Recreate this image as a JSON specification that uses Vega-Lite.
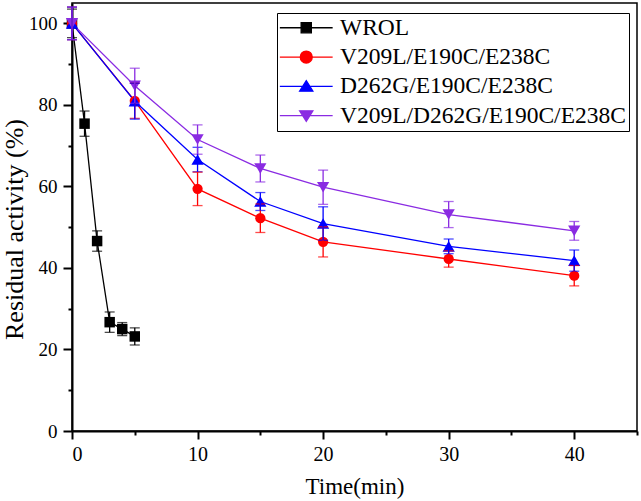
{
  "$schema": "https://vega.github.io/schema/vega-lite/v6.json",
  "width": 565,
  "height": 428,
  "autosize": "none",
  "padding": {"left": 72, "top": 3, "right": 4, "bottom": 70},
  "background": "white",
  "config": {
    "font": "Liberation Serif",
    "view": {"stroke": "black", "strokeWidth": 1.5},
    "axis": {
      "grid": false,
      "domainColor": "black",
      "domainWidth": 2,
      "tickColor": "black",
      "tickWidth": 2,
      "labelColor": "black",
      "titleColor": "black",
      "labelFont": "Liberation Serif",
      "titleFont": "Liberation Serif",
      "titleFontWeight": "normal"
    },
    "legend": {"labelFont": "Liberation Serif"}
  },
  "data": {
    "values": [
      {"series": "WROL", "t": 0, "v": 100, "err": 3.5},
      {"series": "WROL", "t": 1, "v": 75.4, "err": 3.1},
      {"series": "WROL", "t": 2, "v": 46.6, "err": 2.5},
      {"series": "WROL", "t": 3, "v": 26.7, "err": 2.5},
      {"series": "WROL", "t": 4, "v": 25.0, "err": 1.6},
      {"series": "WROL", "t": 5, "v": 23.2, "err": 2.1},
      {"series": "V209L/E190C/E238C", "t": 0, "v": 100, "err": 4},
      {"series": "V209L/E190C/E238C", "t": 5, "v": 81.0, "err": 4.3},
      {"series": "V209L/E190C/E238C", "t": 10, "v": 59.4, "err": 4.1},
      {"series": "V209L/E190C/E238C", "t": 15, "v": 52.2, "err": 3.5},
      {"series": "V209L/E190C/E238C", "t": 20, "v": 46.4, "err": 3.7},
      {"series": "V209L/E190C/E238C", "t": 30, "v": 42.2, "err": 2.0},
      {"series": "V209L/E190C/E238C", "t": 40, "v": 38.1, "err": 2.5},
      {"series": "D262G/E190C/E238C", "t": 0, "v": 100, "err": 4},
      {"series": "D262G/E190C/E238C", "t": 5, "v": 80.9, "err": 4.4},
      {"series": "D262G/E190C/E238C", "t": 10, "v": 66.6, "err": 3.0},
      {"series": "D262G/E190C/E238C", "t": 15, "v": 56.3, "err": 2.2},
      {"series": "D262G/E190C/E238C", "t": 20, "v": 50.9, "err": 4.1},
      {"series": "D262G/E190C/E238C", "t": 30, "v": 45.3, "err": 1.8},
      {"series": "D262G/E190C/E238C", "t": 40, "v": 41.8, "err": 2.6},
      {"series": "V209L/D262G/E190C/E238C", "t": 0, "v": 100, "err": 4},
      {"series": "V209L/D262G/E190C/E238C", "t": 5, "v": 84.7, "err": 4.3},
      {"series": "V209L/D262G/E190C/E238C", "t": 10, "v": 71.5, "err": 3.6},
      {"series": "V209L/D262G/E190C/E238C", "t": 15, "v": 64.4, "err": 3.3},
      {"series": "V209L/D262G/E190C/E238C", "t": 20, "v": 59.8, "err": 4.2},
      {"series": "V209L/D262G/E190C/E238C", "t": 30, "v": 53.1, "err": 3.2},
      {"series": "V209L/D262G/E190C/E238C", "t": 40, "v": 49.1, "err": 2.3}
    ]
  },
  "encoding": {
    "x": {
      "field": "t", "type": "quantitative",
      "scale": {"domain": [0, 45], "nice": false, "zero": false},
      "axis": {
        "title": "Time(min)",
        "titleFont": "Liberation Serif",
        "titleFontSize": 23,
        "titlePadding": 11,
        "labelFont": "Liberation Serif",
        "labelFontSize": 20,
        "labelPadding": 5,
        "values": [0, 5, 10, 15, 20, 25, 30, 35, 40, 45],
        "labelExpr": "datum.value % 10 === 0 ? datum.label : ''",
        "tickSize": {"condition": {"test": "datum.value % 10 === 0", "value": 8}, "value": 4}
      }
    },
    "y": {
      "field": "v", "type": "quantitative",
      "scale": {"domain": [0, 105], "nice": false, "zero": false},
      "axis": {
        "title": "Residual activity (%)",
        "titleFont": "Liberation Serif",
        "titleFontSize": 26,
        "titlePadding": 1,
        "titleY": 226,
        "labelFont": "Liberation Serif",
        "labelFontSize": 19,
        "labelPadding": 6,
        "values": [0, 10, 20, 30, 40, 50, 60, 70, 80, 90, 100],
        "labelExpr": "datum.value % 20 === 0 ? datum.label : ''",
        "tickSize": {"condition": {"test": "datum.value % 20 === 0", "value": 9}, "value": 4}
      }
    },
    "color": {
      "field": "series", "type": "nominal",
      "scale": {
        "domain": ["WROL", "V209L/E190C/E238C", "D262G/E190C/E238C", "V209L/D262G/E190C/E238C"],
        "range": ["#000000", "#FF0000", "#0000FF", "#8A2BE2"]
      },
      "legend": {
        "title": null,
        "orient": "none",
        "legendX": 205,
        "legendY": 10,
        "padding": 3,
        "strokeColor": "black",
        "fillColor": "white",
        "labelFont": "Liberation Serif",
        "labelFontSize": 23.5,
        "labelColor": "black",
        "labelLimit": 500,
        "symbolSize": 144,
        "symbolOffset": 14.5,
        "labelOffset": 22,
        "rowPadding": 4.3,
        "symbolOpacity": 1,
        "symbolStrokeWidth": 1.3
      }
    }
  },
  "layer": [
    {
      "mark": {"type": "point", "filled": true, "opacity": 1, "size": 0},
      "encoding": {
        "shape": {
          "field": "series", "type": "nominal",
          "scale": {
            "domain": ["WROL", "V209L/E190C/E238C", "D262G/E190C/E238C", "V209L/D262G/E190C/E238C"],
            "range": [
              "M-4.4,0H4.4M-0.85,-0.85H0.85V0.85H-0.85Z",
              "M-4.4,0H4.4M-1,0A1,1 0 1,0 1,0A1,1 0 1,0 -1,0Z",
              "M-4.4,0H4.4M0,-0.95L1.1,0.8L-1.1,0.8Z",
              "M-4.4,0H4.4M0,0.95L1.1,-0.8L-1.1,-0.8Z"
            ]
          }
        }
      }
    },
    {
      "mark": {"type": "line", "strokeWidth": 1.3}
    },
    {
      "transform": [{"filter": "datum.series === 'WROL'"}],
      "mark": {"type": "point", "shape": "square", "filled": true, "opacity": 1, "strokeWidth": 0, "size": 110}
    },
    {
      "transform": [{"filter": "datum.series === 'V209L/E190C/E238C'"}],
      "mark": {"type": "point", "shape": "circle", "filled": true, "opacity": 1, "strokeWidth": 0, "size": 105}
    },
    {
      "transform": [{"filter": "datum.series === 'D262G/E190C/E238C'"}],
      "mark": {"type": "point", "shape": "triangle-up", "filled": true, "opacity": 1, "strokeWidth": 0, "size": 150}
    },
    {
      "transform": [{"filter": "datum.series === 'V209L/D262G/E190C/E238C'"}],
      "mark": {"type": "point", "shape": "triangle-down", "filled": true, "opacity": 1, "strokeWidth": 0, "size": 150}
    },
    {
      "mark": {"type": "errorbar", "ticks": {"size": 10, "thickness": 1.3}, "rule": {"strokeWidth": 1.3}},
      "encoding": {
        "yError": {"field": "err"}
      }
    }
  ]
}
